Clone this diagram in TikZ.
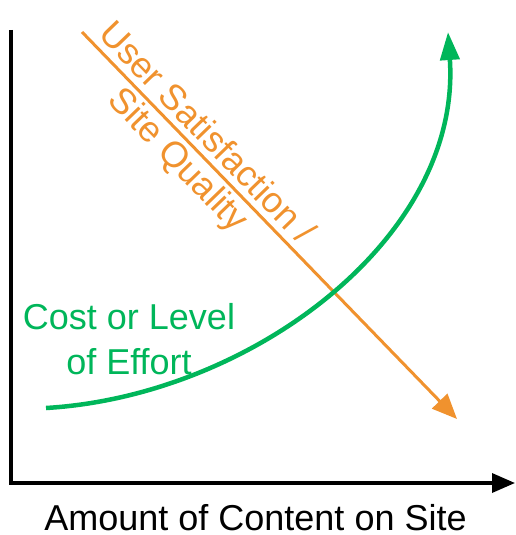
\documentclass[tikz,border=0pt]{standalone}
\usepackage{fontspec}
\setmainfont{Liberation Sans}
\usetikzlibrary{arrows.meta}
\definecolor{curvegreen}{HTML}{00B65A}
\definecolor{lineorange}{HTML}{F0922E}
\begin{document}
\begin{tikzpicture}[x=1pt,y=-1pt,
  axisline/.style={line width=3.5pt, black, line join=miter, -{Triangle[length=23pt,width=19pt]}},
  satline/.style={line width=3pt, lineorange, -{Triangle[length=25pt,width=21pt]}},
  costline/.style={line width=4.5pt, curvegreen, -{Triangle[length=28pt,width=19pt]}},
  lbl/.style={font=\fontsize{36}{43}\selectfont, inner sep=0pt, anchor=base},
]
\useasboundingbox (0,0) rectangle (516,535);
% axes
\coordinate (ytop) at (11,30);
\coordinate (origin) at (11,483);
\coordinate (xend) at (515,483);
\draw[axisline] (ytop) -- (origin) -- (xend);
% orange line
\coordinate (s0) at (82,32);
\coordinate (s1) at (457,419);
\draw[satline] (s0) -- (s1);
% green curve
\coordinate (c0) at (46,408);
\coordinate (c1) at (448,32);
\draw[costline] (c0) .. controls (250,396) and (462,238) .. (c1);
% labels
\node[lbl, lineorange, rotate=-46] (sat1) at (198.7,141) {User Satisfaction /};
\node[lbl, lineorange, rotate=-46] (sat2) at (170.3,167.7) {Site Quality};
\node[lbl, curvegreen] (cost1) at (129,329) {Cost or Level};
\node[lbl, curvegreen] (cost2) at (129,374) {of Effort};
\node[lbl, black] (xlabel) at (255.5,530) {Amount of Content on Site};
\end{tikzpicture}
\end{document}
